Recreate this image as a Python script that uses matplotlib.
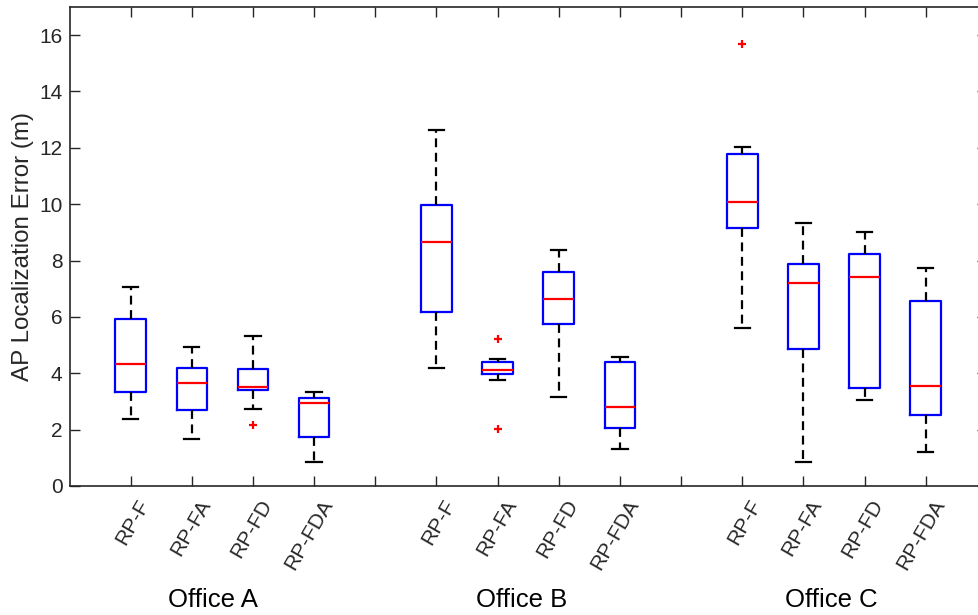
#!/usr/bin/env python3
"""AP localization error boxplots, three offices x four RP variants (MATLAB look)."""
import matplotlib
matplotlib.use("Agg")
import matplotlib.pyplot as plt
from matplotlib.transforms import blended_transform_factory, ScaledTranslation

OFFICES = ["Office A", "Office B", "Office C"]
VARIANTS = ["RP-F", "RP-FA", "RP-FD", "RP-FDA"]

# per box, order: A(F, FA, FD, FDA), B(...), C(...)
WHISLO = [2.39, 1.68, 2.74, 0.86, 4.20, 3.76, 3.17, 1.30, 5.59, 0.86, 3.05, 1.21]
Q1     = [3.35, 2.69, 3.39, 1.73, 6.17, 3.96, 5.74, 2.05, 9.14, 4.86, 3.47, 2.51]
MED    = [4.32, 3.67, 3.51, 2.95, 8.67, 4.11, 6.62, 2.81, 10.07, 7.19, 7.40, 3.55]
Q3     = [5.92, 4.20, 4.15, 3.13, 9.97, 4.41, 7.59, 4.39, 11.77, 7.89, 8.22, 6.57]
WHISHI = [7.07, 4.93, 5.31, 3.33, 12.62, 4.49, 8.37, 4.58, 12.04, 9.32, 9.02, 7.73]
FLIERS = [[], [], [2.17], [], [], [5.21, 2.03], [], [], [15.70], [], [], []]

OFFICE_X = [2.34, 7.39, 12.45]

TXT = "#262626"
plt.rcParams["font.family"] = ["Liberation Sans", "DejaVu Sans"]

fig = plt.figure(figsize=(9.79, 6.15), dpi=100)
ax = fig.add_axes([0.071, 0.2098, 0.937, 0.779])

positions = [g * 5 + i + 1 for g in range(len(OFFICES)) for i in range(len(VARIANTS))]
stats = []
for k in range(len(positions)):
    stats.append(dict(whislo=WHISLO[k], q1=Q1[k], med=MED[k], q3=Q3[k],
                      whishi=WHISHI[k], fliers=FLIERS[k]))

ax.bxp(stats, positions=positions, widths=0.5, capwidths=0.25,
       boxprops=dict(color="#0000ff", linewidth=1.6),
       medianprops=dict(color="#ff0000", linewidth=1.6),
       whiskerprops=dict(color="black", linewidth=1.6, linestyle=(0, (4, 2.5))),
       capprops=dict(color="black", linewidth=1.6),
       flierprops=dict(marker="+", markeredgecolor="#ff0000", markersize=6,
                       markeredgewidth=1.6, linestyle="none"))

ax.set_xlim(0, 15)
ax.set_ylim(0, 17)
ax.set_yticks(range(0, 17, 2))
ax.set_xticks(range(1, 15))
ax.set_xticklabels([])
ax.tick_params(direction="in", length=7, width=1.0, color=TXT, labelcolor=TXT,
               labelsize=15, top=True, right=True, pad=5)
for sp in ax.spines.values():
    sp.set_color(TXT)
    sp.set_linewidth(1.2)

ax.set_ylabel("AP Localization Error (m)", fontsize=17.4, color=TXT, labelpad=4)

# rotated variant labels under each box
base = blended_transform_factory(ax.transData, ax.transAxes)
lab_tr = base + ScaledTranslation(0.06, -0.10, fig.dpi_scale_trans)
for k, pos in enumerate(positions):
    ax.text(pos, 0, VARIANTS[k % len(VARIANTS)], transform=lab_tr,
            rotation=60, rotation_mode="anchor", ha="right", va="top",
            fontsize=15, color=TXT)

off_tr = base + ScaledTranslation(0, -1.21, fig.dpi_scale_trans)
for x, name in zip(OFFICE_X, OFFICES):
    ax.text(x, 0, name, transform=off_tr, ha="center", va="baseline",
            fontsize=18.5, color="black")

fig.savefig("out.png", dpi=100)
